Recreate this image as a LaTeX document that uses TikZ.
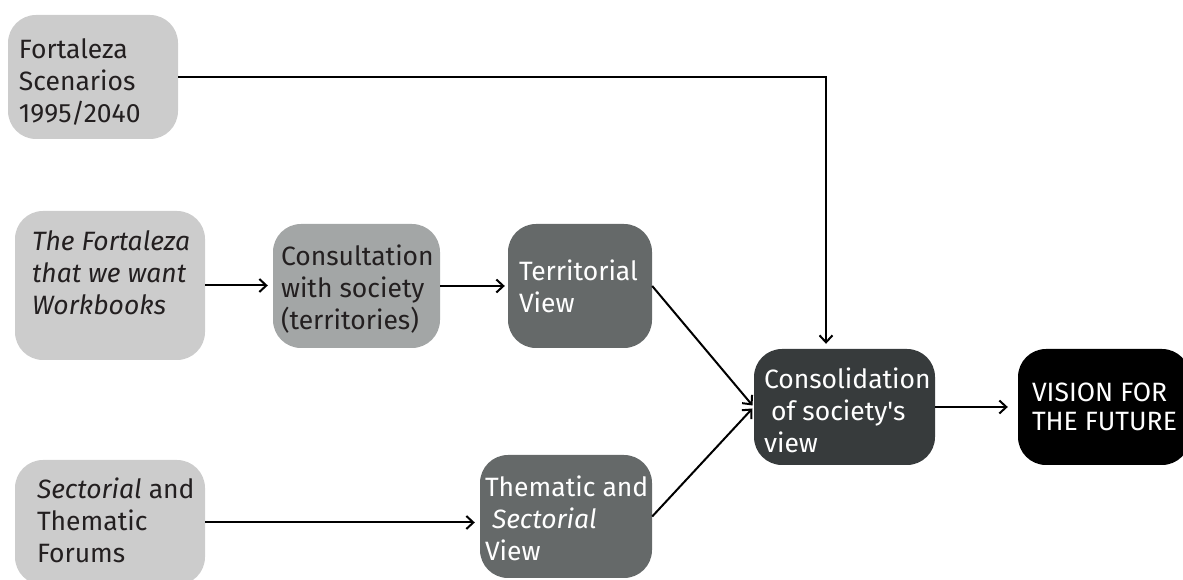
\documentclass[tikz,border=0pt]{standalone}
\usepackage{fontspec}
\setmainfont{Fira Sans}
\usetikzlibrary{arrows.meta}
\definecolor{boxlight}{HTML}{CCCCCC}
\definecolor{boxmid}{HTML}{A3A6A6}
\definecolor{boxdark}{HTML}{656969}
\definecolor{boxdeep}{HTML}{373B3C}
\definecolor{inkdark}{HTML}{231F20}
\tikzset{
  box/.style={rounded corners=28pt, inner sep=0pt},
  txt/.style={anchor=west, align=left, inner sep=0pt, font=\fontsize{26.5}{32}\selectfont},
  arr/.style={line width=2pt, shorten >=5pt, -{Straight Barb[length=7pt,width=13pt]}}
}

\begin{document}
\begin{tikzpicture}[x=1pt,y=1pt]
            \useasboundingbox (0,0) rectangle (1183,580);
            \node[box, fill=boxlight, minimum width=170, minimum height=124] (scen) at (93,503) {};
            \node[box, fill=boxlight, minimum width=190, minimum height=149] (book) at (110,294.5) {};
            \node[box, fill=boxmid, minimum width=167, minimum height=124] (consult) at (356.5,294) {};
            \node[box, fill=boxdark, minimum width=144, minimum height=124] (terr) at (580,294) {};
            \node[box, fill=boxlight, minimum width=190, minimum height=125] (forum) at (110,57.5) {};
            \node[box, fill=boxdark, minimum width=172, minimum height=123] (them) at (566,63.5) {};
            \node[box, fill=boxdeep, minimum width=181, minimum height=116] (consol) at (844.5,173) {};
            \node[box, fill=black, minimum width=172, minimum height=116] (vision) at (1104,173) {};
            % texts
            \node[txt, text=inkdark] at ([xshift=11,yshift=-5]scen.west) {Fortaleza\\Scenarios\\1995/2040};
            \node[txt, text=inkdark] at ([xshift=17,yshift=12.5]book.west) {\itshape The Fortaleza\\\itshape that we want\\\itshape Workbooks};
            \node[txt, text=inkdark] at ([xshift=8,yshift=-3]consult.west) {Consultation\\with society\\(territories)};
            \node[txt, text=white] at ([xshift=11]terr.west) {Territorial\\View};
            \node[txt, text=inkdark] at ([xshift=22,yshift=2]forum.west) {\textit{Sectorial} and\\Thematic\\Forums};
            \node[txt, text=white] at ([xshift=5,yshift=-1.5]them.west) {Thematic and\\\ \textit{Sectorial}\\View};
            \node[txt, text=white] at ([xshift=10,yshift=-3]consol.west) {Consolidation\\\ of society\textquotesingle s\\view};
            \node[txt, text=white, font=\fontsize{26.5}{29}\selectfont] at ([xshift=14]vision.west) {VISION FOR\\THE FUTURE};
            % connectors
            \draw[arr] (scen.east) -| ([xshift=-18.5]consol.north);
            \draw[arr] (book.east) -- (book.east -| consult.west);
            \draw[arr, shorten >=3pt] (consult.east) -- (consult.east -| terr.west);
            \draw[arr, shorten >=2pt] (terr.east) -- (consol.west);
            \draw[arr] (forum.east) -- (forum.east -| them.west);
            \draw[arr, shorten >=2pt] (them.east) -- (consol.west);
            \draw[arr, shorten >=10pt] (consol.east) -- (vision.west);
        \end{tikzpicture}
\end{document}
